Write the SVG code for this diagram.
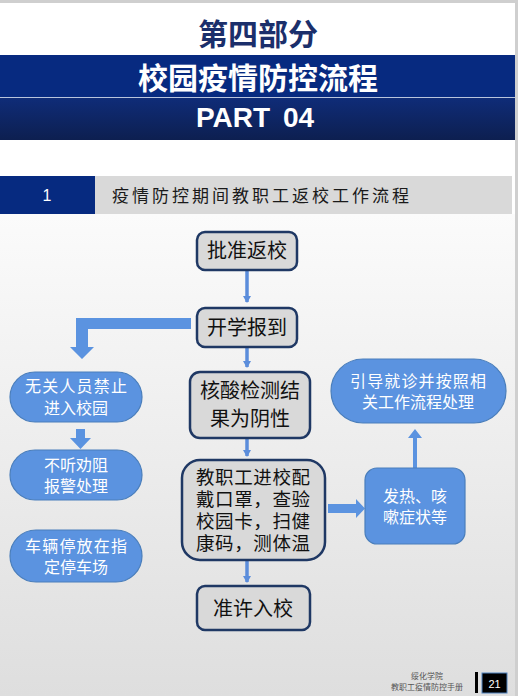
<svg xmlns="http://www.w3.org/2000/svg" width="518" height="696" viewBox="0 0 518 696">
<defs>
<linearGradient id="bg" x1="0" y1="0" x2="0" y2="1">
<stop offset="0" stop-color="#fbfbfb"/><stop offset="1" stop-color="#dedede"/>
</linearGradient>
<linearGradient id="band2" x1="0" y1="0" x2="0" y2="1">
<stop offset="0" stop-color="#0f2c78"/><stop offset="1" stop-color="#0d1f50"/>
</linearGradient>
<marker id="ah" markerWidth="8" markerHeight="8" refX="6" refY="4" orient="auto" markerUnits="userSpaceOnUse">
<path d="M0,0 L7,4 L0,8 Z" fill="#5b8ddb"/>
</marker>
<style>
.cjk{font-family:"Noto Sans CJK SC","Microsoft YaHei",sans-serif}
.box{fill:#d9d9d9;stroke:#1f3864;stroke-width:2.5}
.pill{fill:#5b93e0;stroke:#4a7ebb;stroke-width:1.2}
.bt{font-size:20px;fill:#111;text-anchor:middle}
.pt{font-size:16px;fill:#fff;text-anchor:middle}
.ln{stroke:#5b8ddb;stroke-width:3.5;fill:none;marker-end:url(#ah)}
.blk{fill:#5b93e0}
</style>
</defs>
<rect x="0" y="0" width="518" height="696" fill="#ffffff"/>
<rect x="0" y="214" width="516" height="482" fill="url(#bg)"/>
<rect x="0" y="0" width="518" height="3" fill="#cfcfcf"/>
<rect x="515" y="0" width="3" height="696" fill="#cfcfcf"/>

<g id="header">
<text x="258" y="45" class="cjk" font-size="30" font-weight="bold" fill="#1b2f6b" text-anchor="middle">第四部分</text>
<rect x="0" y="55" width="515" height="42" fill="#072a80"/>
<rect x="0" y="97" width="515" height="1.2" fill="#b8c4dc"/>
<rect x="0" y="98" width="515" height="42" fill="url(#band2)"/>
<text x="258" y="89" class="cjk" font-size="30" font-weight="bold" fill="#fff" text-anchor="middle">校园疫情防控流程</text>
<text x="255" y="127" font-family="Liberation Sans, Arial, sans-serif" font-size="28" font-weight="bold" fill="#fff" text-anchor="middle" word-spacing="5">PART 04</text>
</g>

<g id="section">
<rect x="95" y="176" width="417" height="38" fill="#d9d9d9"/>
<rect x="0" y="176" width="95" height="38" fill="#062a80"/>
<text x="47" y="201" font-family="Liberation Sans, Arial, sans-serif" font-size="16" fill="#fff" text-anchor="middle">1</text>
<text x="112" y="202" class="cjk" font-size="17" fill="#1a1a1a" letter-spacing="3">疫情防控期间教职工返校工作流程</text>
</g>

<g id="connectors">
<line x1="247" y1="270" x2="247" y2="302" class="ln"/>
<line x1="247" y1="347" x2="247" y2="367" class="ln"/>
<line x1="247" y1="438" x2="247" y2="456" class="ln"/>
<line x1="247" y1="560" x2="247" y2="582" class="ln"/>
<polygon class="blk" points="191,318 76,318 76,347 70,347 82,359 94,347 88,347 88,329 191,329"/>
<polygon class="blk" points="76,429 85,429 85,438 91,438 80.5,449 70,438 76,438"/>
<polygon class="blk" points="328,504 356,504 356,499 365,508.5 356,518 356,513 328,513"/>
<polygon class="blk" points="413,468 413,438 408,438 415,429 422,438 417,438 417,468"/>
</g>

<g id="n1"><rect class="box" x="197" y="232" width="100" height="38" rx="8"/>
<text class="cjk bt" x="247" y="258">批准返校</text></g>
<g id="n2"><rect class="box" x="197" y="308" width="100" height="39" rx="8"/>
<text class="cjk bt" x="247" y="335">开学报到</text></g>
<g id="n3"><rect class="box" x="190" y="372" width="120" height="66" rx="10"/>
<text class="cjk bt" x="250" y="398">核酸检测结</text>
<text class="cjk bt" x="250" y="426">果为阴性</text></g>
<g id="n4"><rect class="box" x="182" y="460" width="143" height="100" rx="18"/>
<text class="cjk" font-size="18.5" fill="#111" x="196" y="484" textLength="114">教职工进校配</text>
<text class="cjk" font-size="18.5" fill="#111" x="196" y="506" textLength="114">戴口罩，查验</text>
<text class="cjk" font-size="18.5" fill="#111" x="196" y="528" textLength="114">校园卡，扫健</text>
<text class="cjk" font-size="18.5" fill="#111" x="196" y="550" textLength="114">康码，测体温</text></g>
<g id="n5"><rect class="box" x="197" y="586" width="113" height="44" rx="8"/>
<text class="cjk bt" x="253" y="616">准许入校</text></g>

<g id="p1"><rect class="pill" x="10" y="372" width="132" height="50" rx="25"/>
<text class="cjk pt" x="76" y="392" textLength="102">无关人员禁止</text>
<text class="cjk pt" x="76" y="414">进入校园</text></g>
<g id="p2"><rect class="pill" x="10" y="450" width="132" height="50" rx="25"/>
<text class="cjk pt" x="76" y="471">不听劝阻</text>
<text class="cjk pt" x="76" y="492">报警处理</text></g>
<g id="p3"><rect class="pill" x="10" y="530" width="132" height="52" rx="26"/>
<text class="cjk pt" x="76" y="552" textLength="102">车辆停放在指</text>
<text class="cjk pt" x="76" y="573">定停车场</text></g>
<g id="p4"><rect class="pill" x="331" y="359" width="175" height="64" rx="32"/>
<text class="cjk pt" x="418" y="387" textLength="136">引导就诊并按照相</text>
<text class="cjk pt" x="418" y="408">关工作流程处理</text></g>
<g id="p5"><rect class="pill" x="365" y="468" width="100" height="76" rx="12"/>
<text class="cjk pt" x="415" y="502">发热、咳</text>
<text class="cjk pt" x="415" y="523">嗽症状等</text></g>

<g id="footer">
<text class="cjk" font-size="8" fill="#555" x="427" y="679" text-anchor="middle">绥化学院</text>
<text class="cjk" font-size="8" fill="#555" x="427" y="690" text-anchor="middle">教职工疫情防控手册</text>
<rect x="475" y="672" width="3" height="21" fill="#000"/>
<rect x="482" y="673" width="25" height="20" fill="#000" stroke="#4f81bd" stroke-width="1"/>
<text x="494.5" y="688" font-family="Liberation Sans, Arial, sans-serif" font-size="11" fill="#fff" text-anchor="middle">21</text>
</g>
</svg>
